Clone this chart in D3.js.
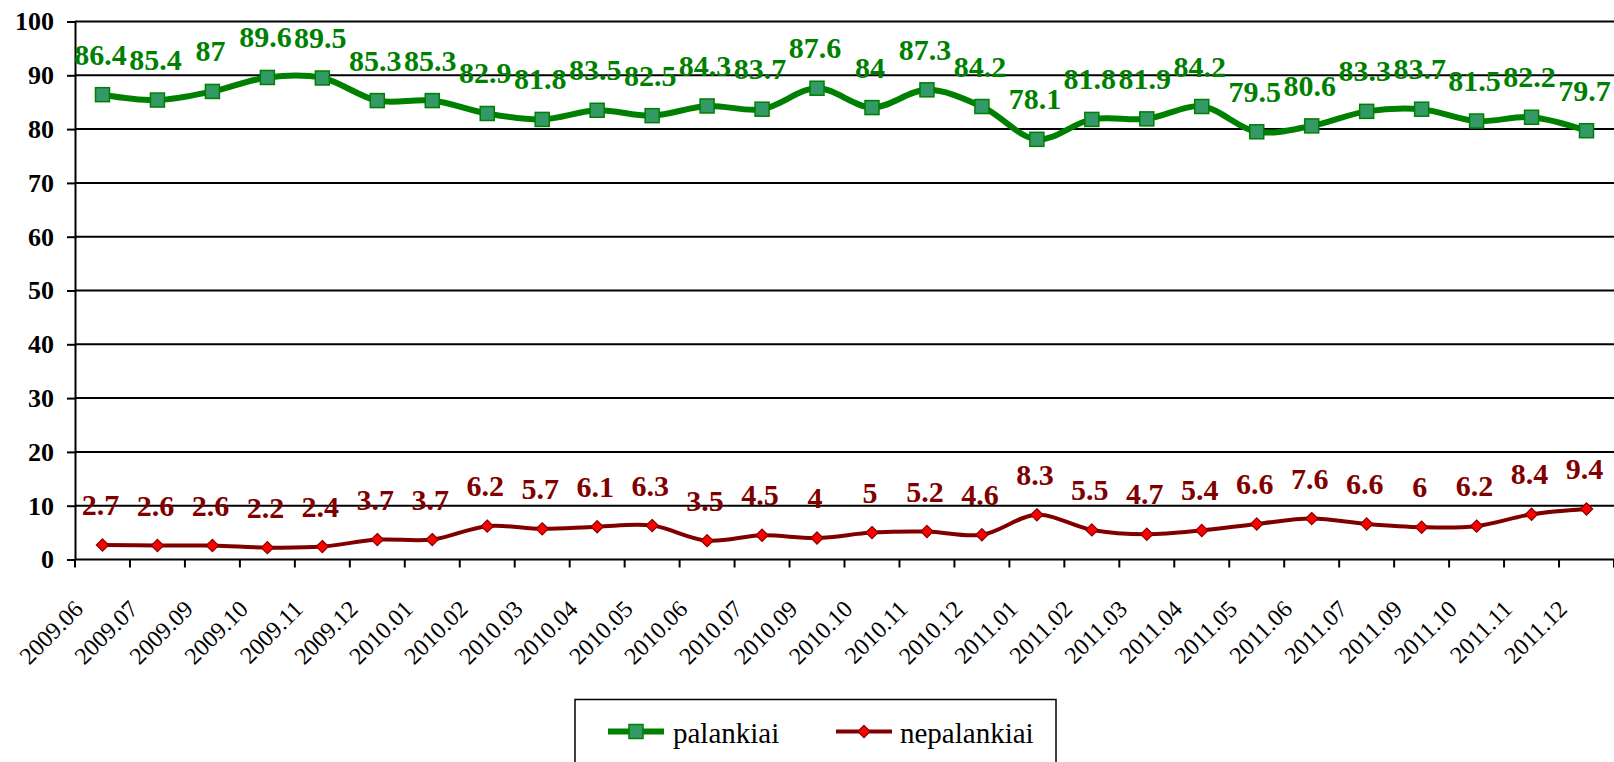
<!DOCTYPE html>
<html>
<head>
<meta charset="utf-8">
<script src="https://cdn.jsdelivr.net/npm/d3@7"></script>
<style>
  body { margin: 0; background: #fff; }
  svg { display: block; }
</style>
</head>
<body>
<svg id="chart"></svg>
<script>
// months on the x axis
const months = ["2009.06","2009.07","2009.09","2009.10","2009.11","2009.12",
  "2010.01","2010.02","2010.03","2010.04","2010.05","2010.06","2010.07","2010.09","2010.10","2010.11","2010.12",
  "2011.01","2011.02","2011.03","2011.04","2011.05","2011.06","2011.07","2011.09","2011.10","2011.11","2011.12"];

// series values
const palankiai = [86.4,85.4,87,89.6,89.5,85.3,85.3,82.9,81.8,83.5,82.5,84.3,83.7,87.6,84,87.3,84.2,
  78.1,81.8,81.9,84.2,79.5,80.6,83.3,83.7,81.5,82.2,79.7];
const nepalankiai = [2.7,2.6,2.6,2.2,2.4,3.7,3.7,6.2,5.7,6.1,6.3,3.5,4.5,4,5,5.2,4.6,
  8.3,5.5,4.7,5.4,6.6,7.6,6.6,6,6.2,8.4,9.4];

const yTicks = [0,10,20,30,40,50,60,70,80,90,100];
const seriesNames = ["palankiai", "nepalankiai"];

const FONT = "Liberation Serif";
const W = 1614, H = 762;
const plotLeft = 75, plotRight = 1614, plotTop = 21.5, plotBottom = 559.5;

const svg = d3.select("#chart").attr("width", W).attr("height", H);

const x = d3.scaleBand().domain(months).range([plotLeft, plotRight]).padding(0);
const y = d3.scaleLinear().domain([0, 100]).range([plotBottom, plotTop]);
const cx = (d, i) => x(months[i]) + x.bandwidth() / 2;

// grid lines
svg.append("g")
  .selectAll("line")
  .data(yTicks.filter(t => t > 0))
  .join("line")
  .attr("x1", plotLeft).attr("x2", plotRight)
  .attr("y1", d => y(d)).attr("y2", d => y(d))
  .attr("stroke", "#000").attr("stroke-width", 2);

// y axis
const yAxis = svg.append("g")
  .attr("transform", `translate(${plotLeft},0)`)
  .call(d3.axisLeft(y).tickValues(yTicks).tickSize(8).tickSizeOuter(0).tickPadding(13));
yAxis.select(".domain").attr("stroke-width", 2);
yAxis.selectAll(".tick line").attr("stroke-width", 2);
yAxis.selectAll("text")
  .style("font-size", "26px")
  .style("font-weight", "bold")
  .style("font-family", FONT)
  .attr("fill", "#000");

// x axis line and ticks between categories
svg.append("line")
  .attr("x1", plotLeft).attr("x2", plotRight)
  .attr("y1", y(0)).attr("y2", y(0))
  .attr("stroke", "#000").attr("stroke-width", 2);

const bounds = months.map(m => x(m)).concat([x.range()[1]]);
svg.append("g")
  .selectAll("line")
  .data(bounds)
  .join("line")
  .attr("x1", d => d).attr("x2", d => d)
  .attr("y1", y(0)).attr("y2", y(0) + 8)
  .attr("stroke", "#000").attr("stroke-width", 2);

svg.append("g")
  .selectAll("text")
  .data(months)
  .join("text")
  .attr("transform", (d, i) => `translate(${cx(d, i) - 18},${y(0) + 51}) rotate(-45)`)
  .attr("text-anchor", "end")
  .style("font-family", FONT)
  .style("font-size", "24px")
  .text(d => d);

// lines
const line = d3.line()
  .x((d, i) => cx(d, i))
  .y(d => y(d))
  .curve(d3.curveCatmullRom.alpha(0.5));

svg.append("path")
  .datum(palankiai)
  .attr("d", line)
  .attr("fill", "none")
  .attr("stroke", "#008000")
  .attr("stroke-width", 6)
  .attr("stroke-linejoin", "round");

svg.append("path")
  .datum(nepalankiai)
  .attr("d", line)
  .attr("fill", "none")
  .attr("stroke", "#800000")
  .attr("stroke-width", 4)
  .attr("stroke-linejoin", "round");

// markers
svg.append("g")
  .selectAll("rect")
  .data(palankiai)
  .join("rect")
  .attr("x", (d, i) => cx(d, i) - 7)
  .attr("y", d => y(d) - 7)
  .attr("width", 14).attr("height", 14)
  .attr("fill", "#339966")
  .attr("stroke", "#008000")
  .attr("stroke-width", 1.5);

const diamond = d3.symbol().type(d3.symbolDiamond2).size(95);
svg.append("g")
  .selectAll("path")
  .data(nepalankiai)
  .join("path")
  .attr("d", diamond)
  .attr("transform", (d, i) => `translate(${cx(d, i)},${y(d)})`)
  .attr("fill", "#ff0000")
  .attr("stroke", "#800000")
  .attr("stroke-width", 1.2);

// data labels
svg.append("g")
  .selectAll("text")
  .data(palankiai)
  .join("text")
  .attr("x", (d, i) => cx(d, i) - 2)
  .attr("y", d => y(d) - 30)
  .attr("text-anchor", "middle")
  .attr("fill", "#008000")
  .style("font-family", FONT)
  .style("font-size", "30px")
  .style("font-weight", "bold")
  .text(d => d);

svg.append("g")
  .selectAll("text")
  .data(nepalankiai)
  .join("text")
  .attr("x", (d, i) => cx(d, i) - 2)
  .attr("y", d => y(d) - 30)
  .attr("text-anchor", "middle")
  .attr("fill", "#800000")
  .style("font-family", FONT)
  .style("font-size", "30px")
  .style("font-weight", "bold")
  .text(d => d);

// legend
const legend = svg.append("g");
legend.append("rect")
  .attr("x", 575).attr("y", 699.5)
  .attr("width", 481).attr("height", 80)
  .attr("fill", "#fff")
  .attr("stroke", "#000").attr("stroke-width", 1.5);

const legendItems = [
  {name: seriesNames[0], color: "#008000", width: 6, x0: 608, text: 673},
  {name: seriesNames[1], color: "#800000", width: 4, x0: 836, text: 900}
];
const ly = 731.5;
legendItems.forEach((it, k) => {
  legend.append("line")
    .attr("x1", it.x0).attr("x2", it.x0 + 56)
    .attr("y1", ly).attr("y2", ly)
    .attr("stroke", it.color).attr("stroke-width", it.width);
  if (k === 0) {
    legend.append("rect")
      .attr("x", it.x0 + 28 - 7).attr("y", ly - 7)
      .attr("width", 14).attr("height", 14)
      .attr("fill", "#339966").attr("stroke", "#008000").attr("stroke-width", 1.5);
  } else {
    legend.append("path")
      .attr("d", diamond)
      .attr("transform", `translate(${it.x0 + 28},${ly})`)
      .attr("fill", "#ff0000").attr("stroke", "#800000").attr("stroke-width", 1.2);
  }
  legend.append("text")
    .attr("x", it.text).attr("y", 743)
    .style("font-family", FONT)
    .style("font-size", "29px")
    .text(it.name);
});
</script>
</body>
</html>
